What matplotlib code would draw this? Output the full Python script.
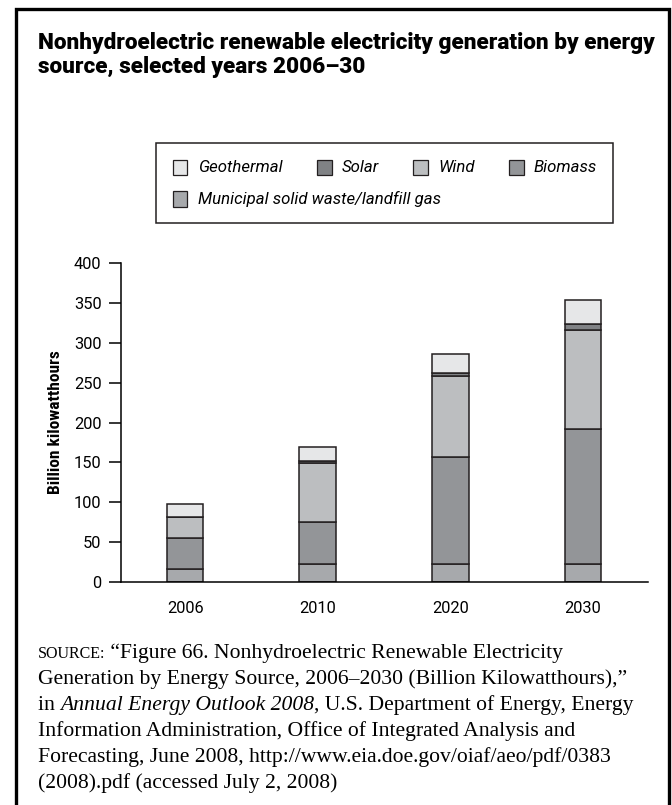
import matplotlib
matplotlib.use("Agg")
import matplotlib.pyplot as plt
from matplotlib.patches import Rectangle
from matplotlib.lines import Line2D
import numpy as np

years = ["2006", "2010", "2020", "2030"]
msw = [15.5, 22.2, 22.2, 22.6]
biomass = [39.8, 52.8, 134.4, 169.2]
wind = [26.0, 74.5, 101.4, 124.0]
solar = [0.5, 2.1, 4.6, 8.0]
geothermal = [15.2, 17.2, 23.9, 30.5]

series = [
    ("Municipal solid waste/landfill gas", msw, "#a7a9ac"),
    ("Biomass", biomass, "#939598"),
    ("Wind", wind, "#bcbec0"),
    ("Solar", solar, "#808285"),
    ("Geothermal", geothermal, "#e6e7e8"),
]
yticks = [0, 50, 100, 150, 200, 250, 300, 350, 400]

W, H = 672, 805
fig = plt.figure(figsize=(W / 100, H / 100), dpi=100)
renderer = fig.canvas.get_renderer()

def fx(x):
    return x / W

def fy(y):
    return 1 - y / H

COND = ["Roboto Condensed", "Liberation Sans Narrow", "DejaVu Sans"]
SANS = ["Roboto", "DejaVu Sans"]
SERIF = ["Liberation Serif", "DejaVu Serif"]

def width_of(txt, **kw):
    t1 = fig.text(0, 0, txt + "|", **kw)
    t2 = fig.text(0, 0, "|", **kw)
    w = t1.get_window_extent(renderer).width - t2.get_window_extent(renderer).width
    t1.remove()
    t2.remove()
    return w

# outer frame (left, top, right)
fig.add_artist(Line2D([fx(16), fx(16), fx(668.5), fx(668.5)],
                      [fy(806), fy(9.5), fy(9.5), fy(806)],
                      transform=fig.transFigure, color="black", lw=2.4,
                      solid_joinstyle="miter"))

# title, sized to the reference width
t1 = "Nonhydroelectric renewable electricity generation by energy"
t2 = "source, selected years 2006\u201330"
tkw = dict(family=SANS, weight=900)
w14 = width_of(t1, fontsize=14, **tkw)
tfs = 14 * 617 / w14
fig.text(fx(38), fy(48.5), t1, fontsize=tfs, va="baseline", ha="left", **tkw)
fig.text(fx(38), fy(73.5), t2, fontsize=tfs, va="baseline", ha="left", **tkw)

# axes
ax = fig.add_axes([fx(121), fy(581.7), fx(648) - fx(121), (581.7 - 263.3) / H])
x = np.arange(len(years))
bottom = np.zeros(len(years))
for name, vals, col in series:
    ax.bar(x, vals, width=0.277, bottom=bottom, color=col,
           edgecolor="#231f20", linewidth=1.1, label=name, zorder=2)
    bottom += np.array(vals)

ax.set_xlim(-0.483, 3.49)
ax.set_ylim(0, 400)
ax.set_yticks(yticks)
ax.set_xticks(x)
ax.set_xticklabels(years, family=SANS, fontsize=11.8)
ax.set_yticklabels([str(v) for v in yticks], family=SANS, fontsize=11.8)
for s in ["top", "right"]:
    ax.spines[s].set_visible(False)
ax.spines["left"].set_linewidth(1.1)
ax.spines["bottom"].set_linewidth(1.1)
ax.tick_params(axis="y", length=9, width=1.1, pad=5)
ax.tick_params(axis="x", length=0, pad=14)
ax.set_ylabel("Billion kilowatthours", family=COND, weight="bold",
              fontsize=12.5, labelpad=8)

# legend (manual layout)
fig.add_artist(Rectangle((fx(156), fy(223.3)), fx(613.3) - fx(156), (223.3 - 143.3) / H,
                         transform=fig.transFigure, facecolor="white",
                         edgecolor="#231f20", lw=1.1))
leg_items = [
    ("Geothermal", "#e6e7e8", 173, 167.5, 198),
    ("Solar", "#808285", 317, 167.5, 342),
    ("Wind", "#bcbec0", 413, 167.5, 438),
    ("Biomass", "#939598", 509, 167.5, 534),
    ("Municipal solid waste/landfill gas", "#a7a9ac", 173, 199, 198),
]
lkw = dict(family=SANS, style="italic")
lw10 = width_of("Municipal solid waste/landfill gas", fontsize=10, **lkw)
lfs = 10 * 242 / lw10
for name, col, px, py, tx in leg_items:
    fig.add_artist(Rectangle((fx(px), fy(py + 7.5)), 14.5 / W, 15 / H,
                             transform=fig.transFigure, facecolor=col,
                             edgecolor="#231f20", lw=0.9))
    fig.text(fx(tx), fy(py), name, fontsize=lfs, va="center", ha="left", **lkw)

# source note with mixed styles
def run_line(y, parts, x0=38):
    xx = x0
    for txt, kw in parts:
        fig.text(fx(xx), fy(y), txt, va="baseline", ha="left", **kw)
        xx += width_of(txt, **kw)

FS = 15.6
rom = dict(family=SERIF, fontsize=FS)
ita = dict(family=SERIF, fontsize=FS, style="italic")
sc = dict(family=SERIF, fontsize=FS * 0.74)

base0 = 658
lh = 26
run_line(base0, [("SOURCE:", sc), (" \u201cFigure 66. Nonhydroelectric Renewable Electricity", rom)])
run_line(base0 + lh, [("Generation by Energy Source, 2006\u20132030 (Billion Kilowatthours),\u201d", rom)])
run_line(base0 + 2 * lh, [("in ", rom), ("Annual Energy Outlook 2008", ita),
                          (", U.S. Department of Energy, Energy", rom)])
run_line(base0 + 3 * lh, [("Information Administration, Office of Integrated Analysis and", rom)])
run_line(base0 + 4 * lh, [("Forecasting, June 2008, http://www.eia.doe.gov/oiaf/aeo/pdf/0383", rom)])
run_line(base0 + 5 * lh, [("(2008).pdf (accessed July 2, 2008)", rom)])

fig.savefig("out.png", dpi=100)
